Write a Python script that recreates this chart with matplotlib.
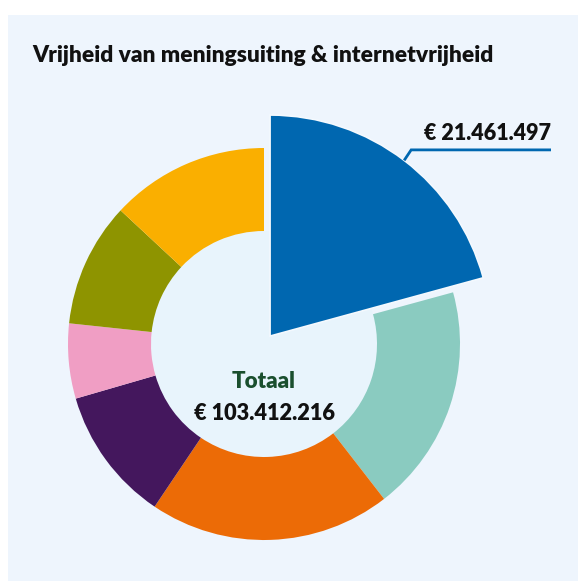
import numpy as np
import matplotlib
matplotlib.use("Agg")
import matplotlib.pyplot as plt
from matplotlib.patches import Rectangle, Circle

# ---- data ----
title = "Vrijheid van meningsuiting & internetvrijheid"
categories = ["Blauw", "Mint", "Oranje", "Paars", "Roze", "Mosgroen", "Geel"]
values = [21461497, 19390000, 20600000, 11460000, 6390000, 10600000, 13510000]
colors = ["#0067B0", "#8ACBC0", "#EC6B06", "#44175D", "#F09EC4", "#8E9400", "#FAAF00"]
highlight_label = "€ 21.461.497"
total_title = "Totaal"
total_label = "€ 103.412.216"

W, H = 578, 581
fig = plt.figure(figsize=(W / 100, H / 100), dpi=100)
fig.patch.set_facecolor("white")
ax = fig.add_axes([0, 0, 1, 1])

FONT = ["Lato", "DejaVu Sans"]
bg = "#EEF5FD"

# panel
ax.add_patch(Rectangle((8, 0), W - 8, H - 15, facecolor=bg, edgecolor="none", zorder=0))

cx, cy = 264, H - 344
R = 196
r_in = 113
explode_px = 10
R_big = 221

wedges, _ = ax.pie(values, colors=colors, startangle=90, counterclock=False,
                   radius=R, center=(cx, cy),
                   explode=[explode_px] + [0] * (len(values) - 1),
                   wedgeprops=dict(width=R - r_in, edgecolor="none", linewidth=0),
                   frame=True)

# hole
ax.add_patch(Circle((cx, cy), r_in, facecolor="#E8F4FC", edgecolor="none", zorder=0.5))

# highlighted slice: full wedge, larger radius
hw = wedges[0]
hw.set_width(None)
hw.set_radius(R_big)
hw.set_zorder(3)
hw.set_edgecolor("#F4F9FE")
hw.set_linewidth(1.2)

# leader line from outer edge at mid angle
theta = np.deg2rad((hw.theta1 + hw.theta2) / 2)
hx, hy = hw.center
p0 = (hx + R_big * np.cos(theta), hy + R_big * np.sin(theta))
p1 = (p0[0] + 7, p0[1] + 10.5)
p2 = (551, p1[1])
ax.plot([p0[0], p1[0], p2[0]], [p0[1], p1[1], p2[1]], color="#0067B0", lw=2,
        solid_capstyle="butt", solid_joinstyle="miter", zorder=4)
ax.text(551, p1[1] + 10, highlight_label, ha="right", va="baseline",
        fontsize=15.5, fontweight="heavy", family=FONT, color="#111111", zorder=5)

# title
ax.text(32, H - 62, title, ha="left", va="baseline", fontsize=16.4,
        fontweight="heavy", family=FONT, color="#111111")

# center text
ax.text(cx, H - 387.5, total_title, ha="center", va="baseline", fontsize=16,
        fontweight="heavy", family=FONT, color="#1A4F2E")
ax.text(cx, H - 420.5, total_label, ha="center", va="baseline", fontsize=15.7,
        fontweight="heavy", family=FONT, color="#111111")

ax.set_xlim(0, W)
ax.set_ylim(0, H)
ax.set_aspect("equal")
ax.axis("off")

fig.savefig("out.png", dpi=100, facecolor="white")
